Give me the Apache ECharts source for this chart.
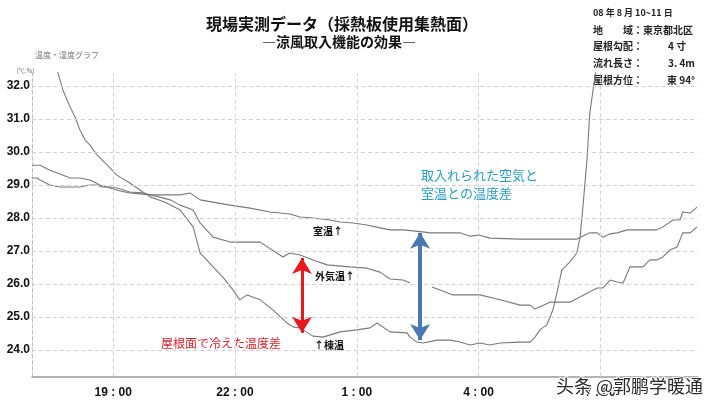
<!DOCTYPE html>
<html>
<head>
<meta charset="utf-8">
<script src="https://cdn.jsdelivr.net/npm/echarts@6/dist/echarts.min.js"></script>
<style>
html,body{margin:0;padding:0;background:#fff;}
#chart{width:716px;height:405px;}
</style>
</head>
<body>
<div id="chart"></div>
<script>
// x values: hours after 17:00
const xTickHours = [2, 5, 8, 11, 14];
const xTickLabels = ['19 : 00', '22 : 00', '1 : 00', '4 : 00', '7 : 00'];
const yGridTemps = [24, 25, 26, 27, 28, 29, 30, 31, 32];

// 室温 (room temperature)
const roomHrs = [0,0.2,0.44,0.69,0.94,1.18,1.43,1.67,1.92,2.17,2.41,2.66,2.91,3.28,3.65,3.89,4.14,4.88,5.37,5.86,6.11,6.35,6.60,6.92,7.34,7.59,7.91,8.25,8.57,8.82,9.14,9.63,9.80,10.54,10.79,11.03,11.28,12.02,13.42,13.74,13.92,14.06,14.24,14.41,14.66,15.39,15.54,15.79,15.96,16.03,16.21,16.38];
const roomTemps = [29.6,29.6,29.45,29.33,29.21,29.21,29.15,29.0,28.91,28.82,28.76,28.73,28.7,28.7,28.7,28.76,28.55,28.39,28.3,28.18,28.15,28.12,28.03,28.0,27.94,27.88,27.85,27.79,27.7,27.64,27.64,27.58,27.55,27.55,27.45,27.48,27.39,27.36,27.36,27.55,27.55,27.42,27.52,27.55,27.64,27.64,27.73,27.94,27.94,28.18,28.15,28.33];

// 外気温 (outdoor temperature)
const outHrs = [0,0.12,0.2,0.44,0.69,1.18,1.43,1.60,1.72,1.92,2.09,2.41,2.73,3.03,3.40,3.65,3.97,4.14,4.46,4.88,5.62,6.03,6.18,6.35,6.60,6.92,7.27,7.83,8.25,8.57,8.82,9.14,9.31,9.6,9.85,10.05,10.37,11.03,11.53,12.02,12.27,12.39,12.76,13.25,13.92,14.06,14.24,14.41,14.56,14.73,15.05,15.22,15.39,15.54,15.71,15.89,16.03,16.21,16.38];
const outTemps = [29.21,29.21,29.15,29.0,28.94,28.94,29.0,29.0,28.94,28.94,28.91,28.79,28.76,28.67,28.55,28.39,28.24,27.85,27.42,27.27,27.27,26.94,26.82,26.94,26.88,26.73,26.58,26.52,26.48,26.36,26.15,26.12,26.03,null,25.91,25.82,25.67,25.67,25.52,25.36,25.36,25.24,25.45,25.45,25.88,25.88,26.12,26.06,26.03,26.52,26.52,26.73,26.73,26.82,27.03,27.12,27.55,27.55,27.73];

// 棟温 (ridge temperature)
const ridgeHrs = [0.62,0.69,0.76,0.94,1.06,1.18,1.31,1.43,1.60,1.85,2.09,2.41,2.66,2.91,3.28,3.65,3.97,4.14,4.46,4.70,4.95,5.12,5.30,5.62,5.94,6.28,6.43,6.60,6.92,7.17,7.59,8.00,8.33,8.50,8.82,9.24,9.31,9.48,9.63,9.98,10.30,10.54,10.79,11.03,11.28,11.53,12.02,12.27,12.39,12.51,12.68,12.83,12.93,13.05,13.25,13.42,13.50,13.57,13.67,13.74,13.82,13.89];
const ridgeTemps = [32.48,32.18,31.88,31.36,31.06,30.67,30.36,30.21,29.91,29.61,29.30,29.06,28.85,28.64,28.48,28.24,27.73,26.94,26.52,26.21,25.82,25.52,25.67,25.52,25.21,24.82,24.70,24.67,24.42,24.39,24.55,24.61,24.67,24.82,24.55,24.52,24.39,24.24,24.21,24.30,24.30,24.24,24.15,24.21,24.15,24.21,24.24,24.24,24.39,24.61,24.76,25.21,25.73,26.42,26.67,26.94,27.42,28.33,29.76,31.18,31.88,32.48];

// annotation arrows: [hour, from temp, to temp]
const redArrow = [6.65, 26.79, 24.52];
const blueArrow = [9.56, 27.55, 24.30];

const zip = (xs, ys) => xs.map((x, i) => [x, ys[i]]);

const chart = echarts.init(document.getElementById('chart'));
const lineColor = '#7a7a7a';
const jp = '"Noto Sans CJK JP", "Liberation Sans", sans-serif';
const num = '"Liberation Sans", Arial, sans-serif';

function arrowLine(a, color, width) {
  return {
    silent: true,
    symbol: ['arrow', 'arrow'],
    symbolSize: [15, 16],
    label: {show: false},
    lineStyle: {color: color, width: width, type: 'solid'},
    itemStyle: {color: color},
    data: [[{coord: [a[0], a[1]]}, {coord: [a[0], a[2]]}]]
  };
}

const option = {
  animation: false,
  backgroundColor: '#fff',
  grid: {left: 32, right: 18.2, top: 72.8, bottom: 28.6},
  xAxis: {
    type: 'value', min: 0, max: 16.4, interval: 1,
    axisLine: {show: true, lineStyle: {color: '#9a9a9a', width: 1.5}},
    axisTick: {show: false},
    splitLine: {show: false},
    axisLabel: {
      margin: 10, color: '#111', fontWeight: 'bold', fontSize: 12, fontFamily: num,
      formatter: v => { const i = xTickHours.findIndex(h => Math.abs(h - v) < 1e-6); return i >= 0 ? xTickLabels[i] : ''; }
    }
  },
  yAxis: {
    type: 'value', min: 23.2, max: 32.4, interval: 0.2,
    axisLine: {show: true, lineStyle: {color: '#c4c4c4', type: 'dashed'}},
    axisTick: {show: false},
    splitLine: {show: false},
    axisLabel: {
      margin: 2, color: '#111', fontWeight: 'bold', fontSize: 12, fontFamily: num,
      formatter: v => Math.abs(v - Math.round(v)) < 1e-6 ? Math.round(v).toFixed(1) : ''
    }
  },
  series: [
    {
      name: '室温', type: 'line', data: zip(roomHrs, roomTemps), showSymbol: false, symbol: 'none',
      lineStyle: {color: lineColor, width: 1.1}, z: 3,
      markLine: {
        silent: true, symbol: ['none', 'none'], label: {show: false},
        lineStyle: {color: '#d2d2d2', width: 1, type: [4, 3]},
        emphasis: {disabled: true},
        data: yGridTemps.map(t => ({yAxis: t})).concat(xTickHours.map(h => ({xAxis: h})))
      }
    },
    {
      name: '外気温', type: 'line', data: zip(outHrs, outTemps), showSymbol: false, symbol: 'none',
      connectNulls: false,
      lineStyle: {color: lineColor, width: 1.1}, z: 3,
      markLine: arrowLine(redArrow, '#e8191e', 3)
    },
    {
      name: '棟温', type: 'line', data: zip(ridgeHrs, ridgeTemps), showSymbol: false, symbol: 'none',
      lineStyle: {color: lineColor, width: 1.1}, z: 3,
      markLine: arrowLine(blueArrow, '#4a78b4', 4)
    }
  ],
  graphic: [
    {type: 'text', x: 342, y: 24, style: {text: '現場実測データ（採熱板使用集熱面）', fontFamily: jp, fontWeight: 'bold', fontSize: 16, fill: '#111', textAlign: 'center', textVerticalAlign: 'middle'}},
    {type: 'text', x: 339, y: 42, style: {text: '―涼風取入機能の効果―', fontFamily: jp, fontWeight: 'bold', fontSize: 14, fill: '#111', textAlign: 'center', textVerticalAlign: 'middle'}},
    {type: 'text', x: 35, y: 55, style: {text: '温度・湿度グラフ', fontFamily: jp, fontSize: 8, fill: '#777', textVerticalAlign: 'middle'}},
    {type: 'text', x: 17, y: 71, style: {text: '[℃.%]', fontFamily: jp, fontSize: 6, fill: '#666', textVerticalAlign: 'middle'}},
    {type: 'text', x: 593, y: 13, style: {text: '08 年 8 月 10~11 日', fontFamily: jp, fontSize: 9, fontWeight: 'bold', fill: '#222', textVerticalAlign: 'middle'}},
    {type: 'text', x: 593, y: 30, style: {text: '地　　域：東京都北区', fontFamily: jp, fontSize: 10, fontWeight: 'bold', fill: '#222', textVerticalAlign: 'middle'}},
    {type: 'text', x: 593, y: 46, style: {text: '屋根勾配：', fontFamily: jp, fontSize: 10, fontWeight: 'bold', fill: '#222', textVerticalAlign: 'middle'}},
    {type: 'text', x: 668, y: 46, style: {text: '4 寸', fontFamily: jp, fontSize: 10, fontWeight: 'bold', fill: '#222', textVerticalAlign: 'middle'}},
    {type: 'text', x: 593, y: 63, style: {text: '流れ長さ：', fontFamily: jp, fontSize: 10, fontWeight: 'bold', fill: '#222', textVerticalAlign: 'middle'}},
    {type: 'text', x: 668, y: 63, style: {text: '3. 4m', fontFamily: jp, fontSize: 10, fontWeight: 'bold', fill: '#222', textVerticalAlign: 'middle'}},
    {type: 'text', x: 593, y: 80, style: {text: '屋根方位：', fontFamily: jp, fontSize: 10, fontWeight: 'bold', fill: '#222', textVerticalAlign: 'middle'}},
    {type: 'text', x: 667, y: 80, style: {text: '東 94°', fontFamily: jp, fontSize: 10, fontWeight: 'bold', fill: '#222', textVerticalAlign: 'middle'}},
    {type: 'text', x: 313, y: 231, style: {text: '室温↑', fontFamily: jp, fontSize: 10, fontWeight: 'bold', fill: '#111', textVerticalAlign: 'middle'}},
    {type: 'text', x: 315, y: 276, style: {text: '外気温↑', fontFamily: jp, fontSize: 10, fontWeight: 'bold', fill: '#111', textVerticalAlign: 'middle'}},
    {type: 'text', x: 314, y: 345, style: {text: '↑棟温', fontFamily: jp, fontSize: 10, fontWeight: 'bold', fill: '#111', textVerticalAlign: 'middle'}},
    {type: 'text', x: 161, y: 343, style: {text: '屋根面で冷えた温度差', fontFamily: jp, fontSize: 12, fill: '#d9232a', textVerticalAlign: 'middle'}},
    {type: 'text', x: 421, y: 175, style: {text: '取入れられた空気と', fontFamily: jp, fontSize: 13, fill: '#2a9cc9', textVerticalAlign: 'middle'}},
    {type: 'text', x: 421, y: 193, style: {text: '室温との温度差', fontFamily: jp, fontSize: 13, fill: '#2a9cc9', textVerticalAlign: 'middle'}},
    {type: 'text', x: 556, y: 386, z: 100, style: {text: '头条 @郭鹏学暖通', fontFamily: '"Noto Sans CJK SC", sans-serif', fontSize: 18, fill: '#2a2a2a', stroke: '#fff', lineWidth: 2, textVerticalAlign: 'middle'}}
  ]
};
chart.setOption(option);
</script>
</body>
</html>
